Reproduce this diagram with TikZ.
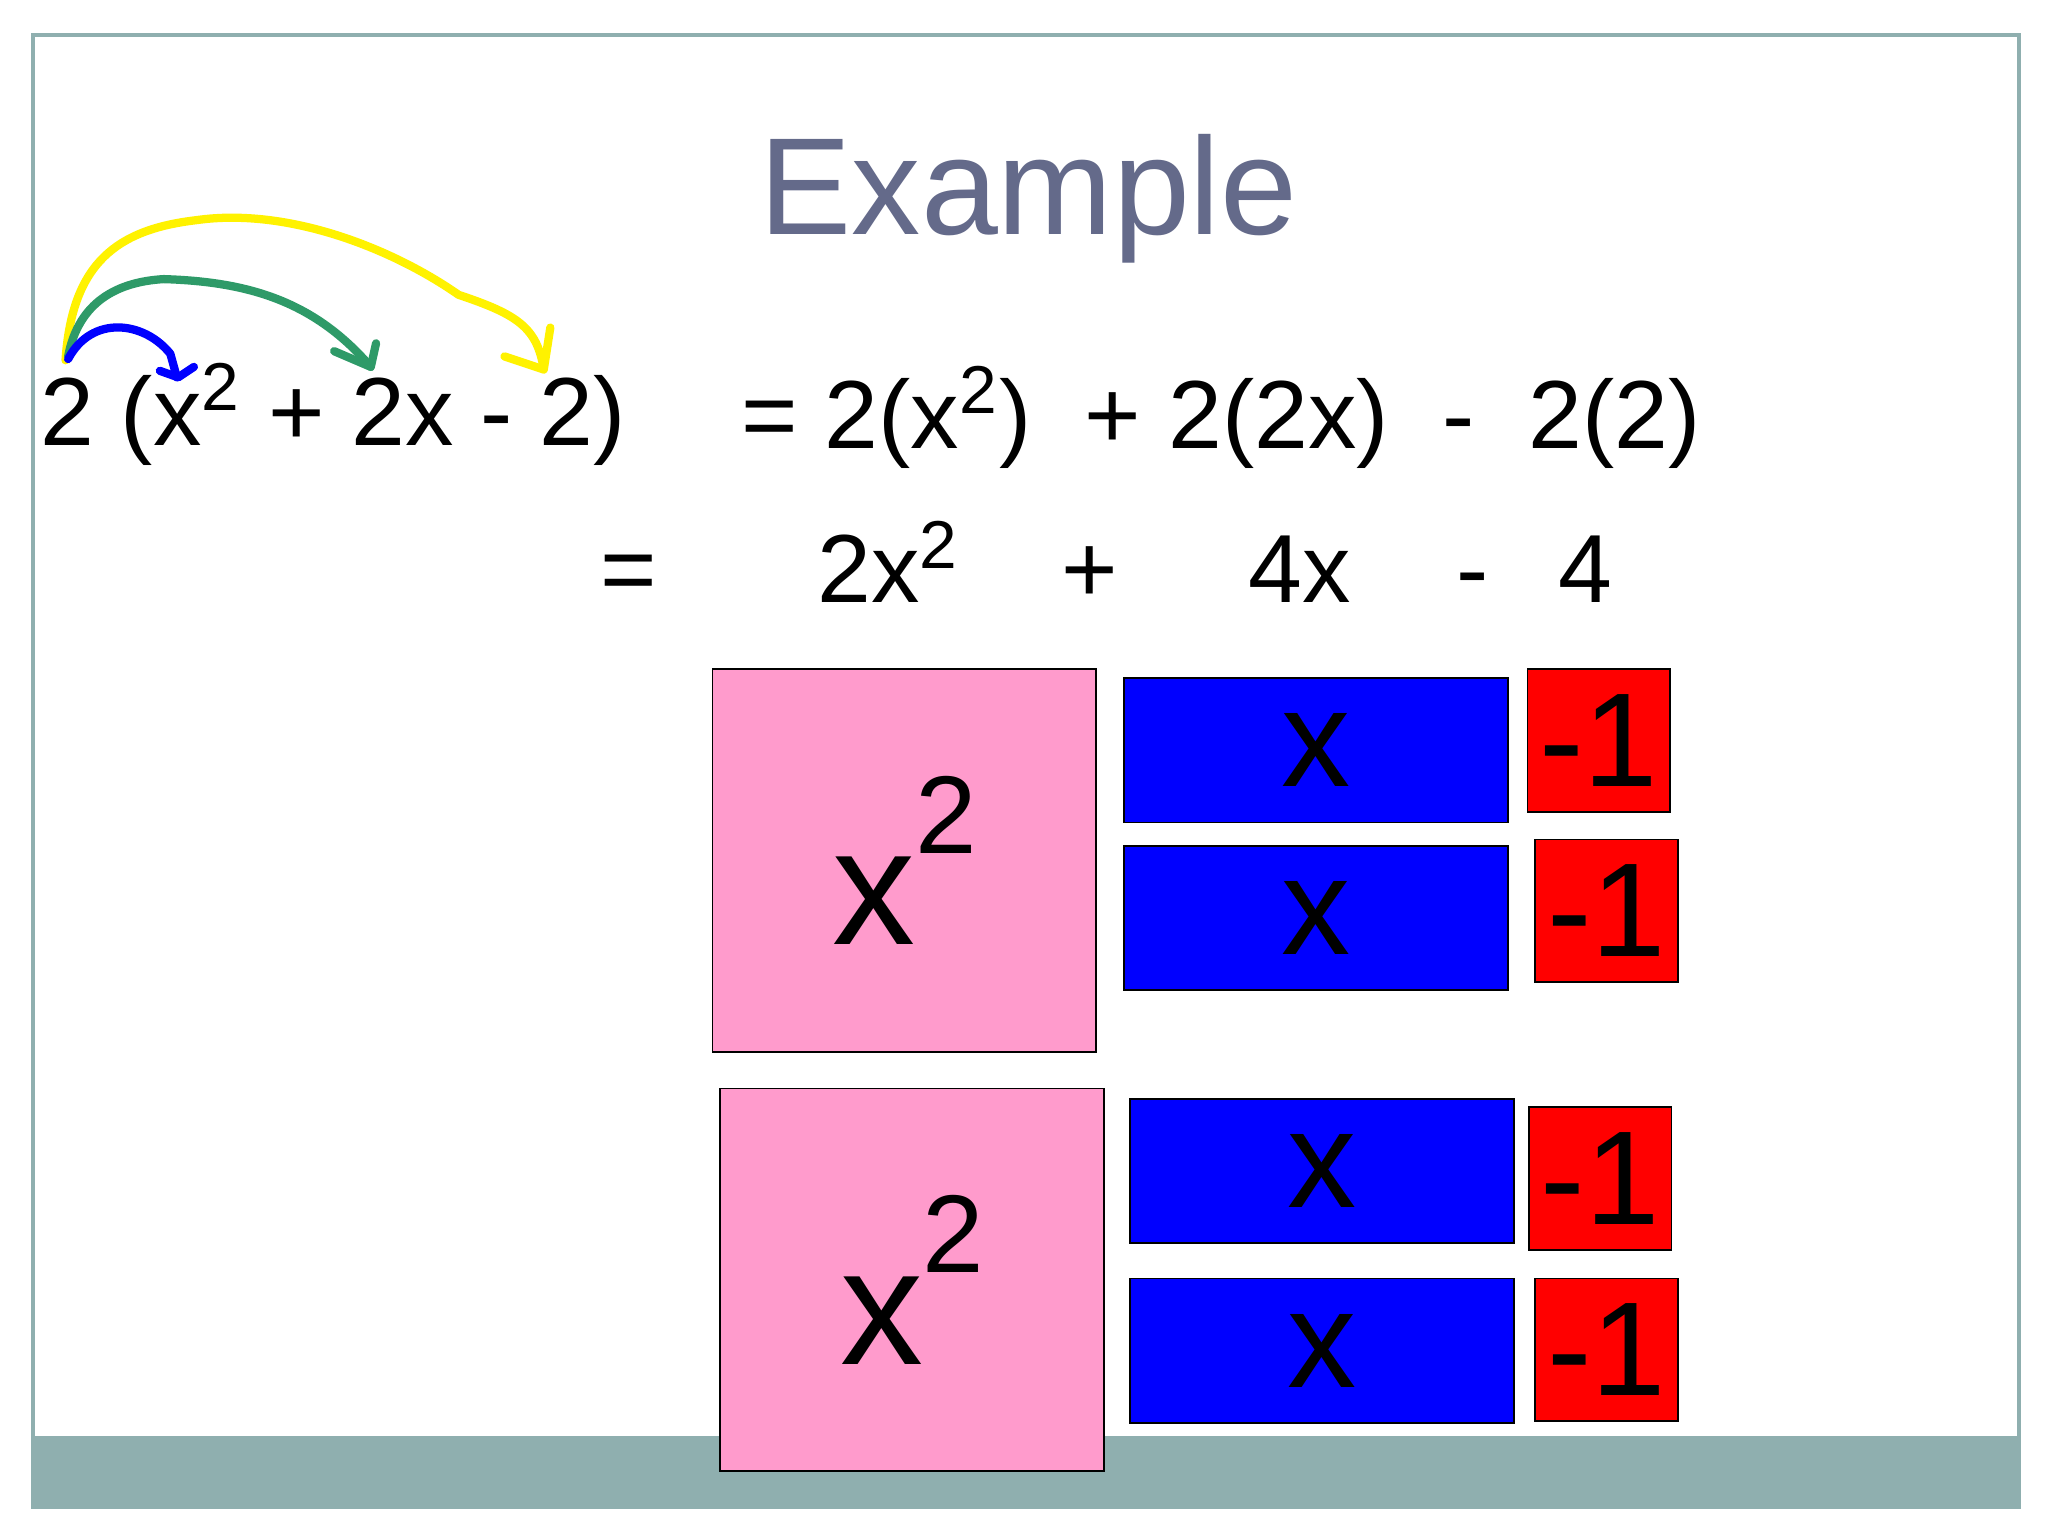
\documentclass[tikz,border=0pt]{standalone}
\usepackage{fontspec}
\setmainfont{Liberation Sans}
\definecolor{titlec}{HTML}{646A8A}
\definecolor{band}{HTML}{8FAFAF}
\definecolor{pinkc}{HTML}{FF9BCC}
\definecolor{greenc}{HTML}{2E9A68}
\newcommand{\sq}[1]{\raisebox{0.55em}{\fontsize{#1}{#1}\selectfont 2}}
\begin{document}
\begin{tikzpicture}[x=0.01cm,y=-0.01cm,
  eq/.style={inner sep=0,anchor=base,font=\fontsize{21}{21}\selectfont},
  sqbox/.style={draw=black,fill=pinkc,minimum width=293*0.01cm,minimum height=292*0.01cm,anchor=north west,inner sep=0,font=\fontsize{36}{36}\selectfont},
  xbox/.style={draw=black,fill=blue,minimum width=293*0.01cm,minimum height=110*0.01cm,anchor=north west,inner sep=0,font=\fontsize{30}{30}\selectfont},
  onebox/.style={draw=black,fill=red,minimum width=109*0.01cm,minimum height=109*0.01cm,anchor=north west,inner sep=0,font=\fontsize{29}{29}\selectfont},
  hand/.style={line width=1.4mm*0.45,line cap=round,line join=round}]
\useasboundingbox (0,0) rectangle (1563,1172);
\fill[white] (0,0) rectangle (1563,1172);
\fill[band] (25,1096) rectangle (1541,1150);
\draw[band,line width=0.3mm] (25,27) rectangle (1541,1150);
\node[text=titlec,font=\fontsize{30}{30}\selectfont] (title) at (785,152) {Example};
% line 1
\node[eq,anchor=base west] (l1) at (30,340) {2 (x\textsuperscript{2} + 2x - 2)};
\node[eq,anchor=base west] (r1) at (565,342) {= 2(x\textsuperscript{2})\ \ + 2(2x)\ \ -\ \ 2(2)};
% line 2
\node[eq] (e2) at (480,460) {=};
\node[eq] (t1) at (678,460) {2x\textsuperscript{2}};
\node[eq] (p2) at (832,460) {+};
\node[eq] (t2) at (992,460) {4x};
\node[eq] (m2) at (1124,460) {-};
\node[eq] (t3) at (1210,460) {4};
% tiles
\node[sqbox] (s1) at (543,510) {x\sq{24}};
\node[sqbox] (s2) at (549,830) {x\sq{24}};
\node[xbox,text depth=-0.3em] (x1) at (857,517) {x};
\node[xbox,text depth=-0.3em] (x2) at (857,645) {x};
\node[xbox,text depth=-0.3em] (x3) at (862,838) {x};
\node[xbox,text depth=-0.3em] (x4) at (862,975) {x};
\node[onebox] (o1) at (1165,510) {-1};
\node[onebox] (o2) at (1171,640) {-1};
\node[onebox] (o3) at (1166,844) {-1};
\node[onebox] (o4) at (1171,975) {-1};
% hand arrows
\coordinate (st) at (52,272);
\draw[hand,yellow] (50,275) .. controls (55,200) and (90,175) .. (150,168) .. controls (220,158) and (300,190) .. (350,225) .. controls (395,240) and (410,250) .. (415,282);
\draw[hand,yellow] (385,272) -- (415,282) -- (420,250);
\draw[hand,greenc] (52,272) .. controls (60,230) and (90,215) .. (125,213) .. controls (190,215) and (240,230) .. (283,280);
\draw[hand,greenc] (255,268) -- (283,280) -- (287,262);
\draw[hand,blue] (52,274) .. controls (70,240) and (110,245) .. (130,270) -- (135,288);
\draw[hand,blue] (122,283) -- (136,288) -- (148,280);
\end{tikzpicture}
\end{document}
